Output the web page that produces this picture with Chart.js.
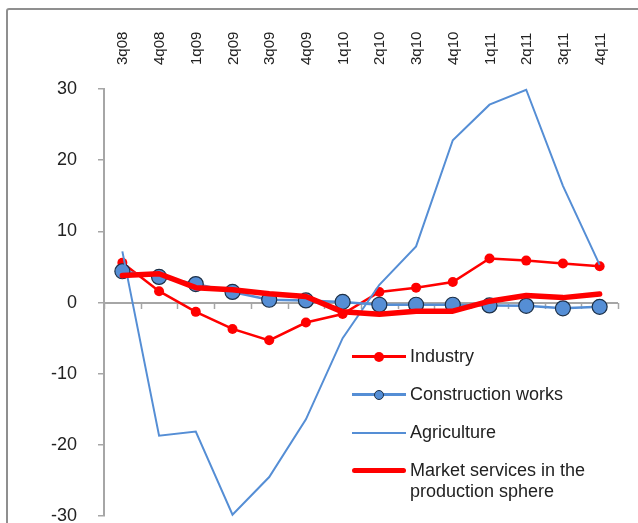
<!DOCTYPE html>
<html>
<head>
<meta charset="utf-8">
<script src="https://cdn.jsdelivr.net/npm/chart.js@4/dist/chart.umd.min.js"></script>
<style>
  html, body { margin: 0; padding: 0; background: #fff; }
  body { width: 638px; height: 523px; position: relative; overflow: hidden; font-family: "Liberation Sans", Arial, sans-serif; }
  .frame { position: absolute; left: 6px; top: 8px; width: 700px; height: 600px; border: 2px solid #8f8f8f; border-radius: 3px; }
  canvas { position: absolute; left: 0; top: 0; }
  .legend { position: absolute; left: 352px; top: 346px; color: #222; font-size: 18px; line-height: 21px; }
  .legend-row { display: flex; align-items: flex-start; margin-bottom: 17px; }
  .sw { position: relative; width: 54px; height: 21px; flex: none; margin-right: 4px; }
  .sw .ln { position: absolute; left: 0; right: 0; top: 50%; }
  .sw .dot { position: absolute; left: 50%; top: 50%; border-radius: 50%; box-sizing: border-box; }
  .lbl { max-width: 200px; }
</style>
</head>
<body>
<div class="frame"></div>
<canvas id="chart" width="638" height="548"></canvas>
<div class="legend" id="legend"></div>
<script>
const quarters = ['3q08', '4q08', '1q09', '2q09', '3q09', '4q09', '1q10', '2q10', '3q10', '4q10', '1q11', '2q11', '3q11', '4q11'];

const industry     = [5.6, 1.6, -1.3, -3.7, -5.3, -2.8, -1.6, 1.5, 2.1, 2.9, 6.2, 5.9, 5.5, 5.1];
const construction = [4.4, 3.6, 2.6, 1.5, 0.4, 0.3, 0.1, -0.3, -0.3, -0.3, -0.4, -0.45, -0.8, -0.6];
const agriculture  = [7.2, -18.7, -18.1, -29.8, -24.5, -16.4, -5.0, 2.5, 7.9, 22.8, 27.8, 29.9, 16.4, 5.3];
const market       = [3.8, 4.05, 2.1, 1.8, 1.25, 0.85, -1.3, -1.65, -1.2, -1.2, 0.2, 1.0, 0.7, 1.2];

const yTicks = { min: -30, max: 30, step: 10 };

const FONT = '"Liberation Sans", Arial, sans-serif';
const TEXT = '#222';
const AXIS = '#a6a6a6';
const RED = '#ff0000';
const BLUE = '#558ed5';

const datasets = [
  {
    label: 'Industry', data: industry, order: 4,
    borderColor: RED, backgroundColor: RED, borderWidth: 2.5,
    pointRadius: 5, pointBackgroundColor: RED, pointBorderWidth: 0
  },
  {
    label: 'Construction works', data: construction, order: 3,
    borderColor: BLUE, backgroundColor: BLUE, borderWidth: 2.5,
    pointRadius: 7.5, pointBackgroundColor: BLUE, pointBorderColor: '#1d3047', pointBorderWidth: 1.2
  },
  {
    label: 'Agriculture', data: agriculture, order: 2,
    borderColor: BLUE, backgroundColor: BLUE, borderWidth: 2, pointRadius: 0
  },
  {
    label: 'Market services in the production sphere', data: market, order: 1,
    borderColor: RED, backgroundColor: RED, borderWidth: 5.5, pointRadius: 0,
    borderCapStyle: 'round', borderJoinStyle: 'round'
  }
].map(d => Object.assign({ tension: 0, fill: false, clip: 8 }, d));

// horizontal axis line at y = 0 with tick marks between the categories
const zeroAxis = {
  id: 'zeroAxis',
  beforeDatasetsDraw(chart) {
    const { ctx, chartArea, scales: { x, y } } = chart;
    const y0 = Math.round(y.getPixelForValue(0));
    ctx.save();
    ctx.strokeStyle = AXIS;
    ctx.lineWidth = 2;
    ctx.beginPath();
    ctx.moveTo(chartArea.left, y0);
    ctx.lineTo(chartArea.right, y0);
    ctx.stroke();
    ctx.lineWidth = 1.5;
    ctx.beginPath();
    for (let i = 0; i <= quarters.length; i++) {
      const px = Math.round(x.getPixelForValue(i - 0.5)) + 0.5;
      ctx.moveTo(px, y0);
      ctx.lineTo(px, y0 + 6);
    }
    ctx.stroke();
    ctx.restore();
  }
};

new Chart(document.getElementById('chart'), {
  type: 'line',
  data: { labels: quarters, datasets },
  plugins: [zeroAxis],
  options: {
    responsive: false,
    animation: false,
    layout: { padding: { left: 0, top: 0, right: 20, bottom: 8 } },
    plugins: { legend: { display: false }, tooltip: { enabled: false } },
    scales: {
      x: {
        type: 'category', position: 'top', offset: true,
        grid: { display: false, drawTicks: false },
        border: { display: false },
        ticks: { autoSkip: false, minRotation: 90, maxRotation: 90, padding: 24, labelOffset: 19, color: TEXT, font: { size: 15, family: FONT } },
        afterFit(s) { s.height = 89; }
      },
      y: {
        min: yTicks.min, max: yTicks.max,
        ticks: { stepSize: yTicks.step, padding: 21, color: TEXT, font: { size: 18, family: FONT } },
        grid: { drawOnChartArea: false, tickLength: 6, color: AXIS, lineWidth: 1.5 },
        border: { color: AXIS, width: 2 },
        afterFit(s) { s.width = 104; }
      }
    }
  }
});

// html legend, built from the datasets so the swatches follow their styles
const legendEl = document.getElementById('legend');
legendEl.innerHTML = datasets.map(d => {
  const size = 10;
  const dot = d.pointRadius
    ? `<span class="dot" style="width:${size}px;height:${size}px;margin:-${size / 2}px 0 0 -${size / 2}px;background:${d.pointBackgroundColor};border:${d.pointBorderWidth ? d.pointBorderWidth + 'px solid ' + d.pointBorderColor : '0'}"></span>`
    : '';
  const ln = `<span class="ln" style="height:${d.borderWidth}px;margin-top:-${d.borderWidth / 2}px;background:${d.borderColor};border-radius:${d.borderCapStyle === 'round' ? d.borderWidth : 0}px"></span>`;
  return `<div class="legend-row"><span class="sw">${ln}${dot}</span><span class="lbl">${d.label}</span></div>`;
}).join('');
</script>
</body>
</html>
